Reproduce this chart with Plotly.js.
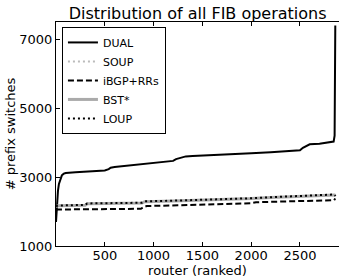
<!DOCTYPE html>
<html>
<head>
<meta charset="utf-8">
<script src="https://cdn.plot.ly/plotly-3.0.1.min.js"></script>
<style>html,body{margin:0;padding:0;background:#fff;}#chart{width:339px;height:280px;}</style>
</head>
<body>
<div id="chart"></div>
<script>
const dualX = [0, 5, 10, 20, 30, 45, 60, 80, 100, 200, 300, 400, 500, 540, 560, 600, 700, 800, 900, 1000, 1100, 1200, 1230, 1280, 1330, 1400, 1600, 1800, 2000, 2200, 2400, 2500, 2530, 2570, 2600, 2700, 2800, 2845, 2855, 2862];
const dualY = [1700, 2000, 2300, 2600, 2800, 2950, 3050, 3100, 3120, 3140, 3150, 3165, 3190, 3230, 3270, 3290, 3320, 3350, 3380, 3410, 3440, 3470, 3520, 3550, 3600, 3610, 3630, 3660, 3690, 3720, 3750, 3775, 3850, 3920, 3950, 3970, 4000, 4030, 4200, 7400];

const soupX = [0, 20, 300, 320, 880, 910, 1200, 1500, 1800, 2000, 2200, 2500, 2700, 2862];
const soupY = [2150, 2170, 2190, 2230, 2250, 2290, 2310, 2330, 2360, 2380, 2410, 2440, 2470, 2490];

const ibgpX = [0, 20, 300, 870, 900, 930, 1250, 1500, 2000, 2050, 2300, 2600, 2850, 2862];
const ibgpY = [2050, 2060, 2065, 2080, 2130, 2160, 2180, 2200, 2240, 2270, 2290, 2310, 2330, 2380];

const bstX = [0, 20, 300, 320, 880, 910, 1200, 1500, 1800, 2000, 2200, 2500, 2700, 2862];
const bstY = [2145, 2165, 2185, 2225, 2245, 2285, 2305, 2325, 2355, 2375, 2405, 2435, 2465, 2480];

const loupX = [0, 20, 300, 320, 880, 910, 1200, 1500, 1800, 2000, 2200, 2500, 2700, 2850, 2865];
const loupY = [2155, 2175, 2195, 2235, 2255, 2295, 2315, 2335, 2365, 2385, 2415, 2445, 2475, 2495, 2450];

const xTicks = [500, 1000, 1500, 2000, 2500];
const yTicks = [1000, 3000, 5000, 7000];

const traces = [
  {x: dualX, y: dualY, name: 'DUAL', mode: 'lines', line: {color: '#000', width: 2}},
  {x: soupX, y: soupY, name: 'SOUP', mode: 'lines', line: {color: '#bbbbbb', width: 2, dash: '2px,3px'}},
  {x: ibgpX, y: ibgpY, name: 'iBGP+RRs', mode: 'lines', line: {color: '#000', width: 2, dash: '6px,3px'}},
  {x: bstX, y: bstY, name: 'BST*', mode: 'lines', line: {color: '#aaaaaa', width: 3}},
  {x: loupX, y: loupY, name: 'LOUP', mode: 'lines', line: {color: '#000', width: 2, dash: '2px,3px'}}
];

const layout = {
  width: 339, height: 280,
  margin: {l: 56, r: 0, t: 22, b: 34},
  paper_bgcolor: '#fff', plot_bgcolor: '#fff',
  font: {family: 'DejaVu Sans', size: 13, color: '#000'},
  showlegend: true,
  title: {text: 'Distribution of all FIB operations', font: {family: 'DejaVu Sans', size: 16, color: '#000'},
          x: 0.583, xanchor: 'center', y: 0.952, yanchor: 'middle'},
  xaxis: {
    range: [0, 2900], tickvals: xTicks, ticktext: xTicks.map(String),
    ticks: 'inside', ticklen: 4, tickcolor: '#000', showline: true, linecolor: '#000', linewidth: 1,
    mirror: 'ticks', showgrid: false, zeroline: false, ticklabelstandoff: -3,
    tickfont: {family: 'DejaVu Sans', size: 13, color: '#000'},
    title: {text: 'router (ranked)', font: {family: 'DejaVu Sans', size: 13, color: '#000'}, standoff: 0}
  },
  yaxis: {
    range: [1000, 7500], tickvals: yTicks, ticktext: yTicks.map(String),
    ticks: 'inside', ticklen: 4, tickcolor: '#000', showline: true, linecolor: '#000', linewidth: 1,
    mirror: false, showgrid: false, zeroline: false,
    tickfont: {family: 'DejaVu Sans', size: 13, color: '#000'},
    title: {text: '# prefix switches', font: {family: 'DejaVu Sans', size: 13, color: '#000'}, standoff: 0}
  },
  legend: {
    x: 0.021, y: 0.978, xanchor: 'left', yanchor: 'top',
    bgcolor: '#fff', bordercolor: '#000', borderwidth: 1,
    font: {family: 'DejaVu Sans', size: 11, color: '#000'},
    tracegroupgap: 0, itemwidth: 30
  }
};

Plotly.newPlot('chart', traces, layout, {displayModeBar: false, staticPlot: true});
</script>
</body>
</html>
